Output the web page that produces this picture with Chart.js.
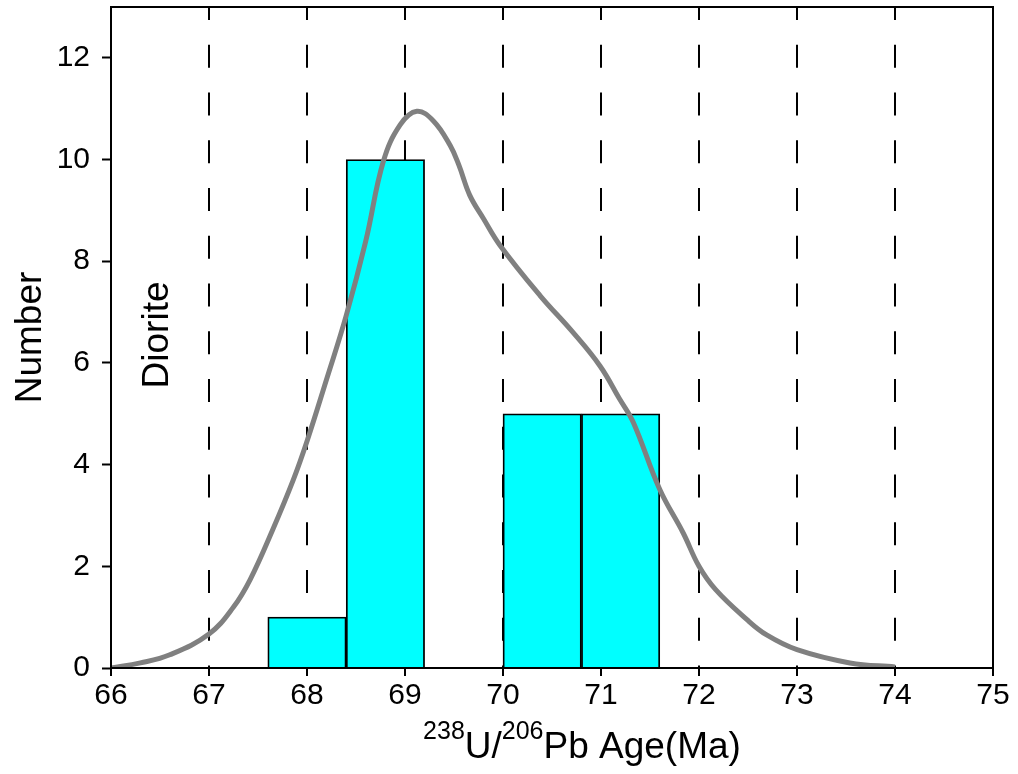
<!DOCTYPE html>
<html>
<head>
<meta charset="utf-8">
<script src="https://cdn.jsdelivr.net/npm/chart.js@4.4.1/dist/chart.umd.min.js"></script>
<style>
  html, body { margin: 0; padding: 0; background: #fff; }
  canvas { display: block; }
</style>
</head>
<body>
<canvas id="ageChart" width="1018" height="774"></canvas>
<script>
// histogram bins (centre of each 0.8 Ma bin) and counts
const binCenters = [68.0, 68.8, 70.4, 71.2];
const binCounts = [1, 10, 5, 5];

// probability density curve, scaled to the count axis
const kdeAge = [66.0, 66.3, 66.6, 67.0, 67.25, 67.42, 67.65, 67.86, 68.0, 68.2, 68.4, 68.6,
  68.78, 68.95, 69.12, 69.29, 69.46, 69.55, 69.66, 69.8, 69.97, 70.38, 70.71, 70.99,
  71.19, 71.33, 71.6, 71.84, 72.0, 72.17, 72.49, 72.69, 73.0, 73.54, 74.0];
const kdeValue = [0.0, 0.1, 0.26, 0.67, 1.2, 1.74, 2.72, 3.7, 4.46, 5.68, 6.93, 8.4,
  9.97, 10.68, 10.95, 10.76, 10.28, 9.89, 9.3, 8.84, 8.31, 7.32, 6.61, 5.94,
  5.29, 4.83, 3.51, 2.65, 2.0, 1.54, 0.95, 0.65, 0.36, 0.1, 0.02];

const xTicks = [66, 67, 68, 69, 70, 71, 72, 73, 74, 75];
const yTicks = [0, 2, 4, 6, 8, 10, 12];

const FONT = "'Liberation Sans', Arial, Helvetica, sans-serif";

// box around the plot area
const frame = {
  id: 'frame',
  afterDraw(chart) {
    const a = chart.chartArea, ctx = chart.ctx;
    ctx.save();
    ctx.strokeStyle = '#000';
    ctx.lineWidth = 2;
    ctx.strokeRect(a.left, a.top, a.right - a.left, a.bottom - a.top);
    ctx.restore();
  }
};

// x title with superscript isotope masses + sample name inside the plot
const labels = {
  id: 'labels',
  afterDraw(chart) {
    const ctx = chart.ctx, a = chart.chartArea;
    const parts = [
      { t: '238', size: 25, sup: true },
      { t: 'U/', size: 37 },
      { t: '206', size: 25, sup: true },
      { t: 'Pb Age(Ma)', size: 37 }
    ];
    ctx.save();
    ctx.fillStyle = '#000';
    ctx.textBaseline = 'alphabetic';
    let total = 0;
    parts.forEach(p => {
      ctx.font = p.size + 'px ' + FONT;
      p.w = ctx.measureText(p.t).width;
      total += p.w;
    });
    const cx = a.left + (a.right - a.left) * 0.534;
    const base = a.bottom + 90;
    let x = cx - total / 2;
    parts.forEach(p => {
      ctx.font = p.size + 'px ' + FONT;
      ctx.fillText(p.t, x, p.sup ? base - 19 : base);
      x += p.w;
    });

    const xs = chart.scales.x, ys = chart.scales.y;
    ctx.translate(xs.getPixelForValue(66.48), ys.getPixelForValue(6.55));
    ctx.rotate(-Math.PI / 2);
    ctx.font = '37px ' + FONT;
    ctx.textAlign = 'center';
    ctx.textBaseline = 'middle';
    ctx.fillText('Diorite', 0, 0);
    ctx.restore();
  }
};

const ctx = document.getElementById('ageChart').getContext('2d');
new Chart(ctx, {
  type: 'bar',
  data: {
    datasets: [
      {
        type: 'line',
        data: kdeAge.map((a, i) => ({ x: a, y: kdeValue[i] })),
        borderColor: '#808080',
        borderWidth: 5,
        pointRadius: 0,
        fill: false,
        tension: 0.4,
        order: 0
      },
      {
        type: 'bar',
        data: binCenters.map((c, i) => ({ x: c, y: binCounts[i] })),
        backgroundColor: '#00ffff',
        borderColor: '#000',
        borderWidth: 1.8,
        barPercentage: 1,
        categoryPercentage: 1,
        order: 1
      }
    ]
  },
  options: {
    responsive: false,
    animation: false,
    devicePixelRatio: 1,
    layout: { padding: { top: 7, right: 25, left: 0, bottom: 0 } },
    plugins: { legend: { display: false }, tooltip: { enabled: false } },
    scales: {
      x: {
        type: 'linear',
        min: 66,
        max: 75,
        offset: false,
        z: 1,
        afterBuildTicks: s => { s.ticks = xTicks.map(v => ({ value: v })); },
        afterFit: s => { s.height = 106; s.paddingLeft = 0; s.paddingRight = 0; },
        grid: {
          offset: false,
          color: '#000', lineWidth: 2,
          drawTicks: true, tickLength: 8, tickWidth: 2, tickColor: '#000', tickBorderDash: []
        },
        border: { display: false, dash: [23, 24.75], dashOffset: 10 },
        ticks: { color: '#000', font: { family: FONT, size: 30 }, padding: 2, maxRotation: 0, autoSkip: false }
      },
      y: {
        min: 0,
        max: 13,
        afterBuildTicks: s => { s.ticks = yTicks.map(v => ({ value: v })); },
        afterFit: s => { s.width = 111; s.paddingTop = 0; s.paddingBottom = 0; },
        grid: { drawOnChartArea: false, drawTicks: true, tickLength: 9, tickWidth: 2, tickColor: '#000' },
        border: { display: false },
        ticks: { color: '#000', font: { family: FONT, size: 30 }, padding: 12 },
        title: { display: true, text: 'Number', color: '#000', font: { family: FONT, size: 37 }, padding: { top: 9, bottom: 0 } }
      }
    }
  },
  plugins: [frame, labels]
});
</script>
</body>
</html>
